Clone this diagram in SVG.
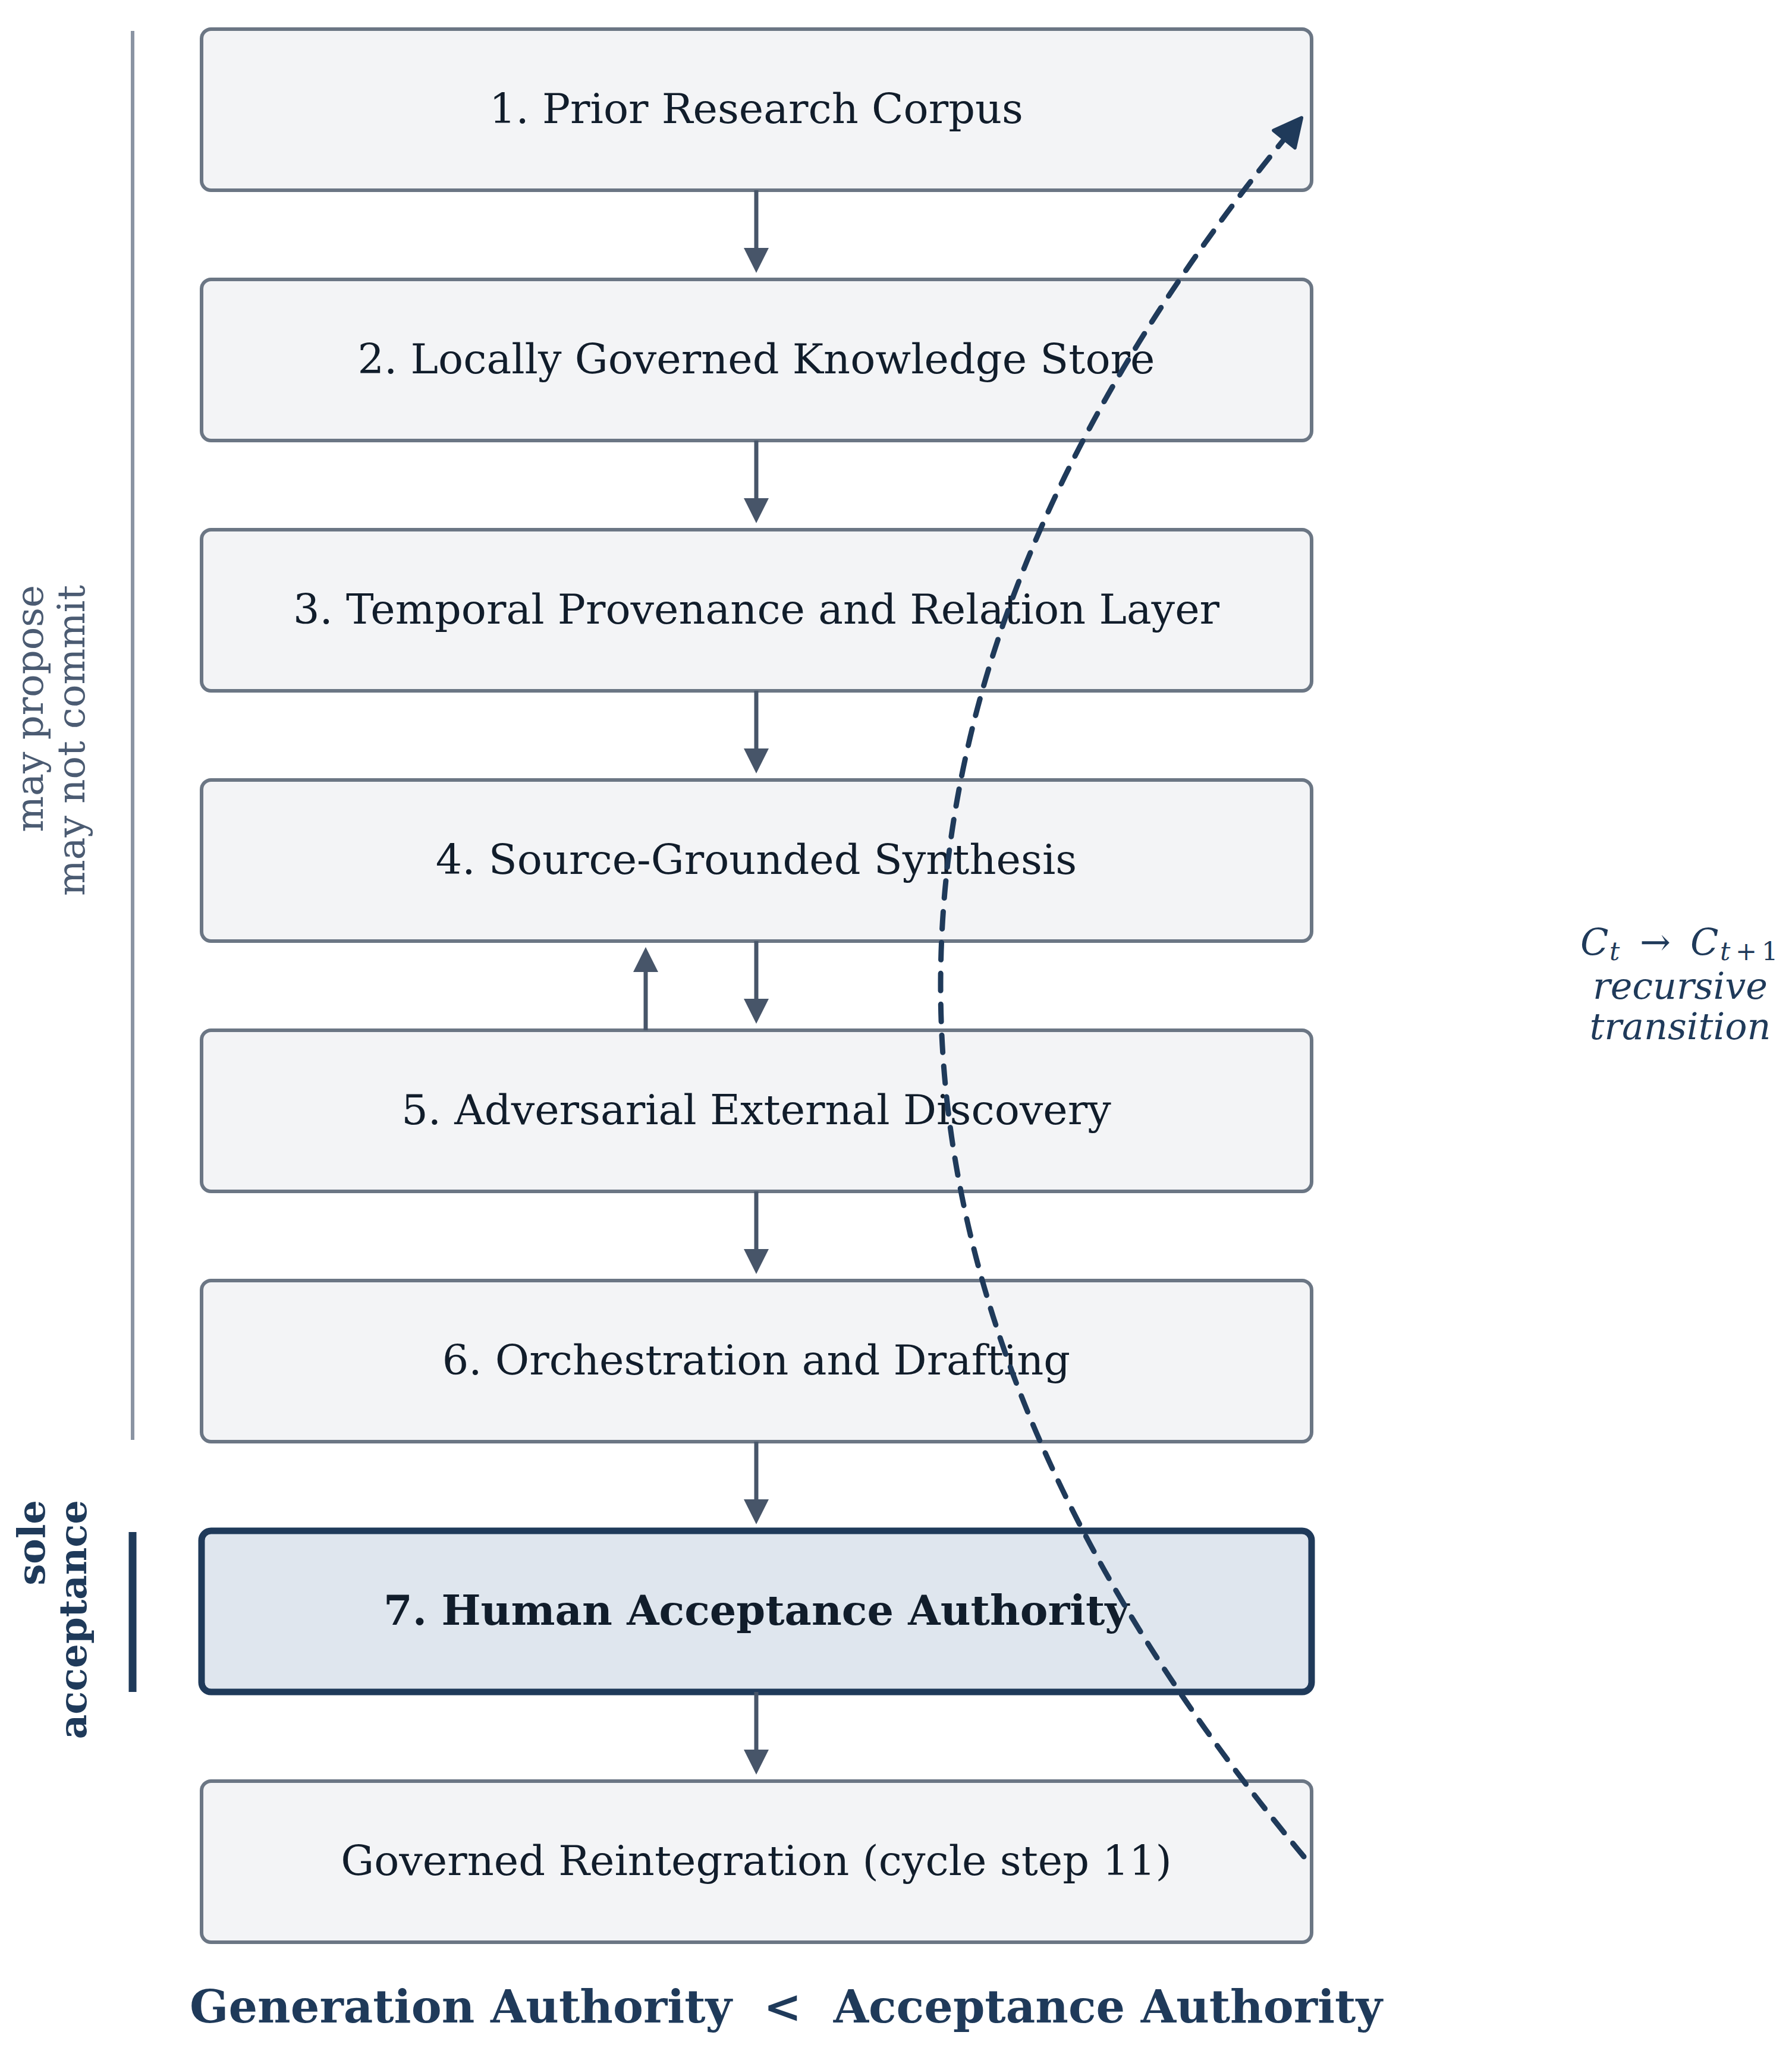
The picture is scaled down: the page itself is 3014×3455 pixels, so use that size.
<svg xmlns="http://www.w3.org/2000/svg" width="3014" height="3455" viewBox="0 0 3014 3455">
<style>
.box{fill:#f3f4f6;stroke:#6b7684;stroke-width:6}
.hbox{fill:#dfe6ee;stroke:#1f3a5a;stroke-width:11}
.lbl{font-family:"DejaVu Serif","Liberation Serif",serif;font-size:70px;fill:#111d2b;text-anchor:middle}
.bold{font-weight:bold}
.side{font-family:"DejaVu Serif","Liberation Serif",serif;font-size:64px;text-anchor:end}
.flow{stroke:#475569;stroke-width:7;fill:none;marker-end:url(#ah)}
.cycle{stroke:#1f3a5a;stroke-width:9;fill:none;stroke-dasharray:29 23;stroke-linecap:round;marker-end:url(#ch)}
.math{font-family:"DejaVu Serif","Liberation Serif",serif;font-size:62px;fill:#1f3a5a}
</style>
<defs>
<marker id="ah" markerUnits="userSpaceOnUse" orient="auto" refX="0" refY="0" markerWidth="60" markerHeight="60" overflow="visible">
<path d="M42,0 L0,-21 L0,21 Z" fill="#475569"/>
</marker>
<marker id="ch" markerUnits="userSpaceOnUse" orient="auto" refX="0" refY="0" markerWidth="60" markerHeight="60" overflow="visible">
<path d="M46,0 L0,-23 L0,23 Z" fill="#1f3a5a" stroke="#1f3a5a" stroke-width="6" stroke-linejoin="round"/>
</marker>
</defs>
<rect width="3014" height="3455" fill="#ffffff"/>

<g id="bracket-propose">
<line x1="223" y1="52" x2="223" y2="2422" stroke="#8a94a3" stroke-width="6"/>
<text class="side" fill="#4b5b72" transform="translate(72,984) rotate(-90)">may propose</text>
<text class="side" fill="#4b5b72" transform="translate(142,984) rotate(-90)">may not commit</text>
</g>
<g id="bracket-accept">
<line x1="223" y1="2577" x2="223" y2="2846" stroke="#1f3a5a" stroke-width="13"/>
<text class="side bold" fill="#1f3a5a" transform="translate(75,2523) rotate(-90)">sole</text>
<text class="side bold" fill="#1f3a5a" transform="translate(145,2523) rotate(-90)">acceptance</text>
</g>

<g id="n1"><rect class="box" x="339" y="49" width="1867" height="271" rx="16"/><text class="lbl" x="1272" y="207">1. Prior Research Corpus</text></g>
<g id="n2"><rect class="box" x="339" y="470" width="1867" height="271" rx="16"/><text class="lbl" x="1272" y="628">2. Locally Governed Knowledge Store</text></g>
<g id="n3"><rect class="box" x="339" y="891" width="1867" height="271" rx="16"/><text class="lbl" x="1272" y="1049">3. Temporal Provenance and Relation Layer</text></g>
<g id="n4"><rect class="box" x="339" y="1312" width="1867" height="271" rx="16"/><text class="lbl" x="1272" y="1470">4. Source-Grounded Synthesis</text></g>
<g id="n5"><rect class="box" x="339" y="1733" width="1867" height="271" rx="16"/><text class="lbl" x="1272" y="1891">5. Adversarial External Discovery</text></g>
<g id="n6"><rect class="box" x="339" y="2154" width="1867" height="271" rx="16"/><text class="lbl" x="1272" y="2312">6. Orchestration and Drafting</text></g>
<g id="n7"><rect class="hbox" x="339" y="2575" width="1867" height="271" rx="16"/><text class="lbl bold" x="1272" y="2733">7. Human Acceptance Authority</text></g>
<g id="n8"><rect class="box" x="339" y="2996" width="1867" height="271" rx="16"/><text class="lbl" x="1272" y="3154">Governed Reintegration (cycle step 11)</text></g>

<g id="connectors">
<line class="flow" x1="1272" y1="320" x2="1272" y2="417"/>
<line class="flow" x1="1272" y1="741" x2="1272" y2="838"/>
<line class="flow" x1="1272" y1="1162" x2="1272" y2="1259"/>
<line class="flow" x1="1272" y1="1583" x2="1272" y2="1680"/>
<line class="flow" x1="1086" y1="1733" x2="1086" y2="1635"/>
<line class="flow" x1="1272" y1="2004" x2="1272" y2="2101"/>
<line class="flow" x1="1272" y1="2425" x2="1272" y2="2522"/>
<line class="flow" x1="1272" y1="2846" x2="1272" y2="2943"/>
<path class="cycle" d="M2193,3123 Q987.8,1676.8 2160,234"/>
</g>

<g id="cycle-label">
<text class="math">
<tspan x="2658" y="1606" font-style="italic">C</tspan><tspan x="2707" y="1615" font-size="43" font-style="italic">t</tspan><tspan x="2758" y="1606">→</tspan><tspan x="2843" y="1606" font-style="italic">C</tspan><tspan x="2893" y="1615" font-size="43" font-style="italic">t</tspan><tspan x="2919" y="1615" font-size="43">+</tspan><tspan x="2963" y="1615" font-size="43">1</tspan>
</text>
<text class="math" x="2826" y="1680" font-style="italic" text-anchor="middle">recursive</text>
<text class="math" x="2826" y="1748" font-style="italic" text-anchor="middle">transition</text>
</g>

<g id="title">
<text x="1322" y="3402" text-anchor="middle" font-family="DejaVu Serif, Liberation Serif, serif" font-size="76.5" font-weight="bold" fill="#1f3a5a" xml:space="preserve">Generation Authority  &lt;  Acceptance Authority</text>
</g>
</svg>
